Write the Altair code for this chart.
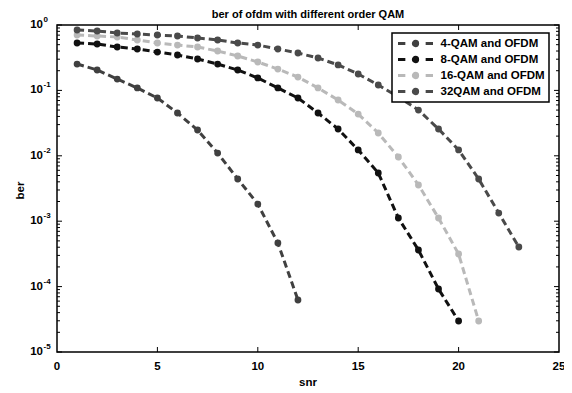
import altair as alt
import pandas as pd

FONT = "Liberation Sans"

# ---- data ----
series_names = ["4-QAM and OFDM", "8-QAM and OFDM", "16-QAM and OFDM", "32QAM and OFDM"]
series_colors = ["#404040", "#111111", "#b9b9b9", "#4a4a4a"]

snr_4 = [1, 2, 3, 4, 5, 6, 7, 8, 9, 10, 11, 12]
ber_4 = [0.253, 0.205, 0.149, 0.109, 0.0765, 0.0451, 0.0248, 0.0110, 0.00442, 0.00183, 0.000464, 6.24e-5]

snr_8 = [1, 2, 3, 4, 5, 6, 7, 8, 9, 10, 11, 12, 13, 14, 15, 16, 17, 18, 19, 20]
ber_8 = [0.531, 0.512, 0.461, 0.430, 0.386, 0.348, 0.302, 0.253, 0.205, 0.155, 0.109, 0.0765,
         0.0451, 0.0257, 0.0123, 0.00546, 0.00112, 0.000363, 9.19e-5, 2.98e-5]

snr_16 = [1, 2, 3, 4, 5, 6, 7, 8, 9, 10, 11, 12, 13, 14, 15, 16, 17, 18, 19, 20, 21]
ber_16 = [0.703, 0.679, 0.656, 0.590, 0.531, 0.494, 0.461, 0.400, 0.336, 0.272, 0.212, 0.160,
          0.109, 0.0713, 0.0435, 0.0223, 0.00959, 0.00358, 0.00112, 0.000315, 2.98e-5]

snr_32 = [1, 2, 3, 4, 5, 6, 7, 8, 9, 10, 11, 12, 13, 14, 15, 16, 17, 18, 19, 20, 21, 22, 23]
ber_32 = [0.839, 0.810, 0.755, 0.728, 0.703, 0.679, 0.633, 0.590, 0.531, 0.494, 0.430, 0.373,
          0.313, 0.245, 0.178, 0.121, 0.0793, 0.0501, 0.0257, 0.0123, 0.00442, 0.00133, 0.000403]

# ---- axis ticks and labels ----
x_tick_values = [0, 5, 10, 15, 20, 25]
x_tick_labels = ["0", "5", "10", "15", "20", "25"]
x_inner_ticks = [5, 10, 15, 20]
y_major_ticks = [1e-5, 1e-4, 1e-3, 1e-2, 1e-1, 1.0]
y_base_labels = ["10", "10", "10", "10", "10", "10"]
y_exp_labels = ["-5", "-4", "-3", "-2", "-1", "0"]
y_minor_mult = [2, 3, 4, 5, 6, 7, 8, 9]
y_decades = [1e-5, 1e-4, 1e-3, 1e-2, 1e-1]

chart_title = "ber of ofdm with different order QAM"
x_title = "snr"
y_title = "ber"

y_minor_ticks = [m * d for d in y_decades for m in y_minor_mult]

frames = []
for name, xs, ys in [(series_names[0], snr_4, ber_4), (series_names[1], snr_8, ber_8),
                     (series_names[2], snr_16, ber_16), (series_names[3], snr_32, ber_32)]:
    frames.append(pd.DataFrame({"snr": xs, "ber": ys, "series": name}))
df = pd.concat(frames, ignore_index=True)

W, H = 502, 327

x_scale = alt.Scale(domain=[0, 25], nice=False, zero=False)
y_scale = alt.Scale(type="log", domain=[1e-5, 1], nice=False)
color_scale = alt.Scale(domain=series_names, range=series_colors)

legend_symbol = ("M-1,0L-0.58,0M0.58,0L1,0M-0.123,0A0.123,0.123,0,1,1,0.123,0"
                 "A0.123,0.123,0,1,1,-0.123,0Z")
legend = alt.Legend(title=None, orient="none", legendX=335, legendY=8, symbolType=legend_symbol,
                    symbolSize=1225, symbolStrokeWidth=3, clipHeight=13, rowPadding=3,
                    labelFont=FONT, labelFontSize=11.5, labelFontWeight="bold", labelColor="black",
                    labelOffset=6, symbolOffset=0.5, padding=4, strokeColor="black",
                    fillColor="white", labelExpr="datum.label + '\u00a0\u00a0\u00a0'")

base = alt.Chart(df)
layers = []
for name, col in zip(series_names, series_colors):
    sub = base.transform_filter(alt.datum.series == name)
    xe = alt.X("snr:Q", scale=x_scale, axis=None)
    ye = alt.Y("ber:Q", scale=y_scale, axis=None)
    layers.append(sub.mark_line(strokeDash=[7, 4], strokeWidth=3, color=col).encode(x=xe, y=ye))
    layers.append(sub.mark_point(filled=True, size=14.5, strokeWidth=3, opacity=1).encode(
        x=xe, y=ye,
        fill=alt.Fill("series:N", scale=color_scale, legend=legend),
        stroke=alt.Stroke("series:N", scale=color_scale, legend=legend)))

ymaj = alt.Chart(pd.DataFrame({"v": y_major_ticks, "b": y_base_labels, "e": y_exp_labels}))
ymin = alt.Chart(pd.DataFrame({"v": y_minor_ticks}))
xin = alt.Chart(pd.DataFrame({"v": x_inner_ticks}))
xlab = alt.Chart(pd.DataFrame({"v": x_tick_values, "t": x_tick_labels}))


def yrule(src, x0, x1):
    return src.mark_rule(color="black", strokeWidth=1).encode(
        y=alt.Y("v:Q", scale=y_scale, axis=None), x=alt.value(x0), x2=alt.value(x1))


def xrule(src, y0, y1):
    return src.mark_rule(color="black", strokeWidth=1).encode(
        x=alt.X("v:Q", scale=x_scale, axis=None), y=alt.value(y0), y2=alt.value(y1))


tick_layers = [
    yrule(ymaj, 0, 5), yrule(ymaj, W - 5, W),
    yrule(ymin, 0, 3), yrule(ymin, W - 3, W),
    xrule(xin, H, H - 5), xrule(xin, 0, 5),
]

txt = dict(font=FONT, fontWeight="bold", color="black")

label_layers = [
    # x tick labels
    xlab.mark_text(fontSize=11.5, baseline="middle", align="center", **txt).encode(
        x=alt.X("v:Q", scale=x_scale, axis=None), y=alt.value(H + 15), text="t:N"),
    # y tick labels: base "10" and exponent
    ymaj.mark_text(fontSize=11.5, baseline="middle", align="right", **txt).encode(
        y=alt.Y("v:Q", scale=y_scale, axis=None), x=alt.value(-14), text="b:N"),
    ymaj.mark_text(fontSize=8, baseline="middle", align="left", dy=-5, **txt).encode(
        y=alt.Y("v:Q", scale=y_scale, axis=None), x=alt.value(-13.5), text="e:N"),
    # axis titles and chart title
    alt.Chart(pd.DataFrame({"t": [x_title]})).mark_text(
        fontSize=11.5, baseline="alphabetic", align="center", **txt).encode(
        x=alt.value(W / 2), y=alt.value(H + 34), text="t:N"),
    alt.Chart(pd.DataFrame({"t": [y_title]})).mark_text(
        fontSize=11.5, baseline="alphabetic", align="center", angle=270, **txt).encode(
        x=alt.value(-33), y=alt.value(H / 2 + 2), text="t:N"),
    alt.Chart(pd.DataFrame({"t": [chart_title]})).mark_text(
        fontSize=11, baseline="alphabetic", align="center", **txt).encode(
        x=alt.value(W / 2), y=alt.value(-7.5), text="t:N"),
]

chart = alt.layer(*layers, *tick_layers, *label_layers).properties(
    width=W, height=H,
    autosize=alt.AutoSizeParams(type="none"),
    padding={"left": 49, "top": 17, "right": 5, "bottom": 42},
    background="white",
).configure_view(stroke="black", strokeWidth=1.5).configure_legend(strokeWidth=1.5)

chart.save("out.html", embed_options={"renderer": "svg", "actions": False})
